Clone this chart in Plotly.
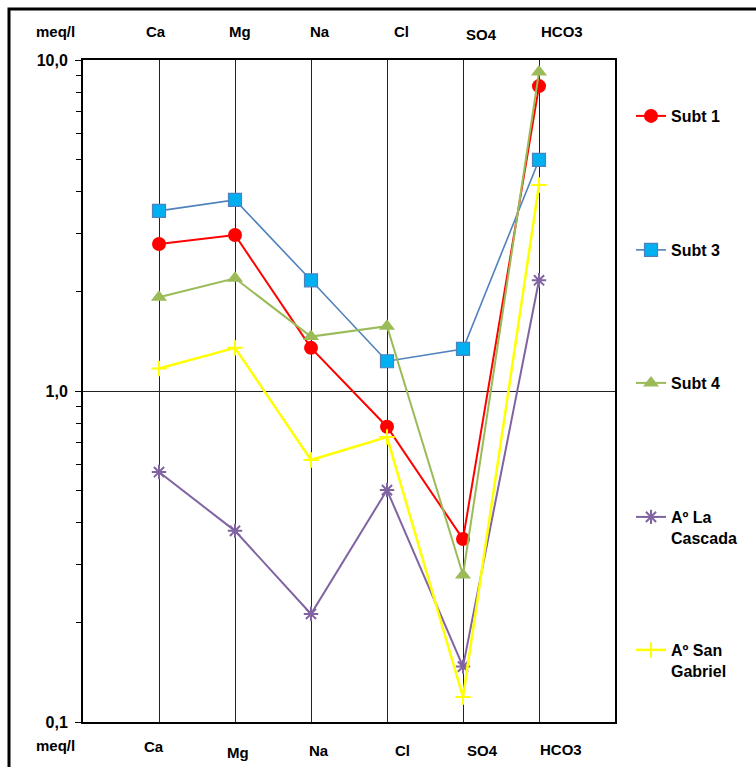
import plotly.graph_objects as go

# Major ions (meq/l) per sample, Schoeller-type semilog diagram
ions = ["Ca", "Mg", "Na", "Cl", "SO4", "HCO3"]

subt_1 = [2.78, 2.96, 1.35, 0.78, 0.357, 8.34]
subt_3 = [3.50, 3.78, 2.16, 1.23, 1.34, 4.99]
subt_4 = [1.92, 2.19, 1.46, 1.57, 0.278, 9.2]
la_cascada = [0.569, 0.378, 0.212, 0.502, 0.147, 2.16]
san_gabriel = [1.17, 1.35, 0.619, 0.726, 0.119, 4.19]

series = [
    ("Subt 1", subt_1, dict(color="#FF0000", width=2),
     dict(symbol="circle", size=14, color="#FF0000", line=dict(color="#FF0000", width=0))),
    ("Subt 3", subt_3, dict(color="#4F81BD", width=1.6),
     dict(symbol="square", size=13, color="#00B0F0", line=dict(color="#4F81BD", width=1.2))),
    ("Subt 4", subt_4, dict(color="#9BBB59", width=2),
     dict(symbol="triangle-up", size=14, color="#9BBB59", line=dict(width=0))),
    ("Aº La<br>Cascada", la_cascada, dict(color="#8064A2", width=2),
     dict(symbol="asterisk-open", size=12, color="#8064A2", line=dict(color="#8064A2", width=2))),
    ("Aº San<br>Gabriel", san_gabriel, dict(color="#FFFF00", width=2.5),
     dict(symbol="cross-thin-open", size=11, color="#FFFF00", line=dict(color="#FFFF00", width=2))),
]

L, R, T, B = 83, 141, 60, 45
W, H = 756, 767
PW, PH = W - L - R, H - T - B


def px_x(px):
    return (px - L) / PW


def px_y(py):
    return (H - B - py) / PH


legend_ids = ["legend", "legend2", "legend3", "legend4", "legend5"]
legend_rows = [116, 250, 383, 517, 650]

fig = go.Figure()
for (name, vals, line, marker), lid in zip(series, legend_ids):
    fig.add_trace(go.Scatter(
        x=ions, y=vals, name=f"<b>{name}</b>", mode="lines+markers",
        line=line, marker=marker, legend=lid, showlegend=True,
    ))

legend_font = dict(family="Liberation Sans, Arial, sans-serif", size=16, color="black")
legend_layout = {}
for lid, row in zip(legend_ids, legend_rows):
    legend_layout[lid] = dict(
        x=px_x(631), y=px_y(row - 17), xanchor="left", yanchor="top",
        font=legend_font, bgcolor="rgba(0,0,0,0)", valign="top",
        itemwidth=30, borderwidth=0, visible=True,
    )

label_font = dict(family="Liberation Sans, Arial, sans-serif", size=15, color="black")

annotations = []
top_labels = [("meq/l", 55, 31)] + list(zip(ions, [156, 240, 320, 401, 481, 562],
                                             [31, 31, 31, 31, 34, 31]))
bottom_labels = [("meq/l", 55, 745)] + list(zip(ions, [154, 238, 319, 402, 482, 561],
                                                [746, 752, 750, 751, 751, 749]))
for text, x, y in top_labels + bottom_labels:
    annotations.append(dict(
        text=f"<b>{text}</b>", x=px_x(x), y=px_y(y), xref="paper", yref="paper",
        showarrow=False, font=label_font, xanchor="center", yanchor="middle",
    ))

fig.update_layout(
    width=W, height=H,
    margin=dict(l=L, r=R, t=T, b=B),
    paper_bgcolor="white", plot_bgcolor="white",
    font=dict(family="Liberation Sans, Arial, sans-serif", color="black"),
    showlegend=True,
    annotations=annotations,
    shapes=[dict(
        type="rect", xref="paper", yref="paper",
        x0=px_x(9), x1=px_x(900), y0=px_y(900), y1=px_y(9),
        line=dict(color="black", width=3), fillcolor="rgba(0,0,0,0)", layer="above",
    )],
    **legend_layout,
)

fig.update_xaxes(
    type="category", range=[-1, 6], showticklabels=False,
    showgrid=True, gridcolor="#222222", gridwidth=1,
    showline=True, linecolor="black", linewidth=2, mirror=True,
    ticks="", zeroline=False,
)

minor_vals = [m * d for d in (0.1, 1) for m in range(2, 10)]
fig.update_yaxes(
    type="log", range=[-1, 1],
    tickmode="array",
    tickvals=[0.1, 1, 10], ticktext=["<b>0,1</b>", "<b>1,0</b>", "<b>10,0</b>"],
    tickfont=dict(family="Liberation Sans, Arial, sans-serif", size=16, color="black"),
    ticks="outside", ticklen=6, tickcolor="black", tickwidth=1,
    ticklabelstandoff=4,
    showgrid=True, gridcolor="#222222", gridwidth=1,
    minor=dict(tickmode="array", tickvals=minor_vals, ticks="outside", ticklen=5,
               tickcolor="black", tickwidth=1, showgrid=False),
    showline=True, linecolor="black", linewidth=2, mirror=True,
    zeroline=False,
)

fig.write_html("out.html")
